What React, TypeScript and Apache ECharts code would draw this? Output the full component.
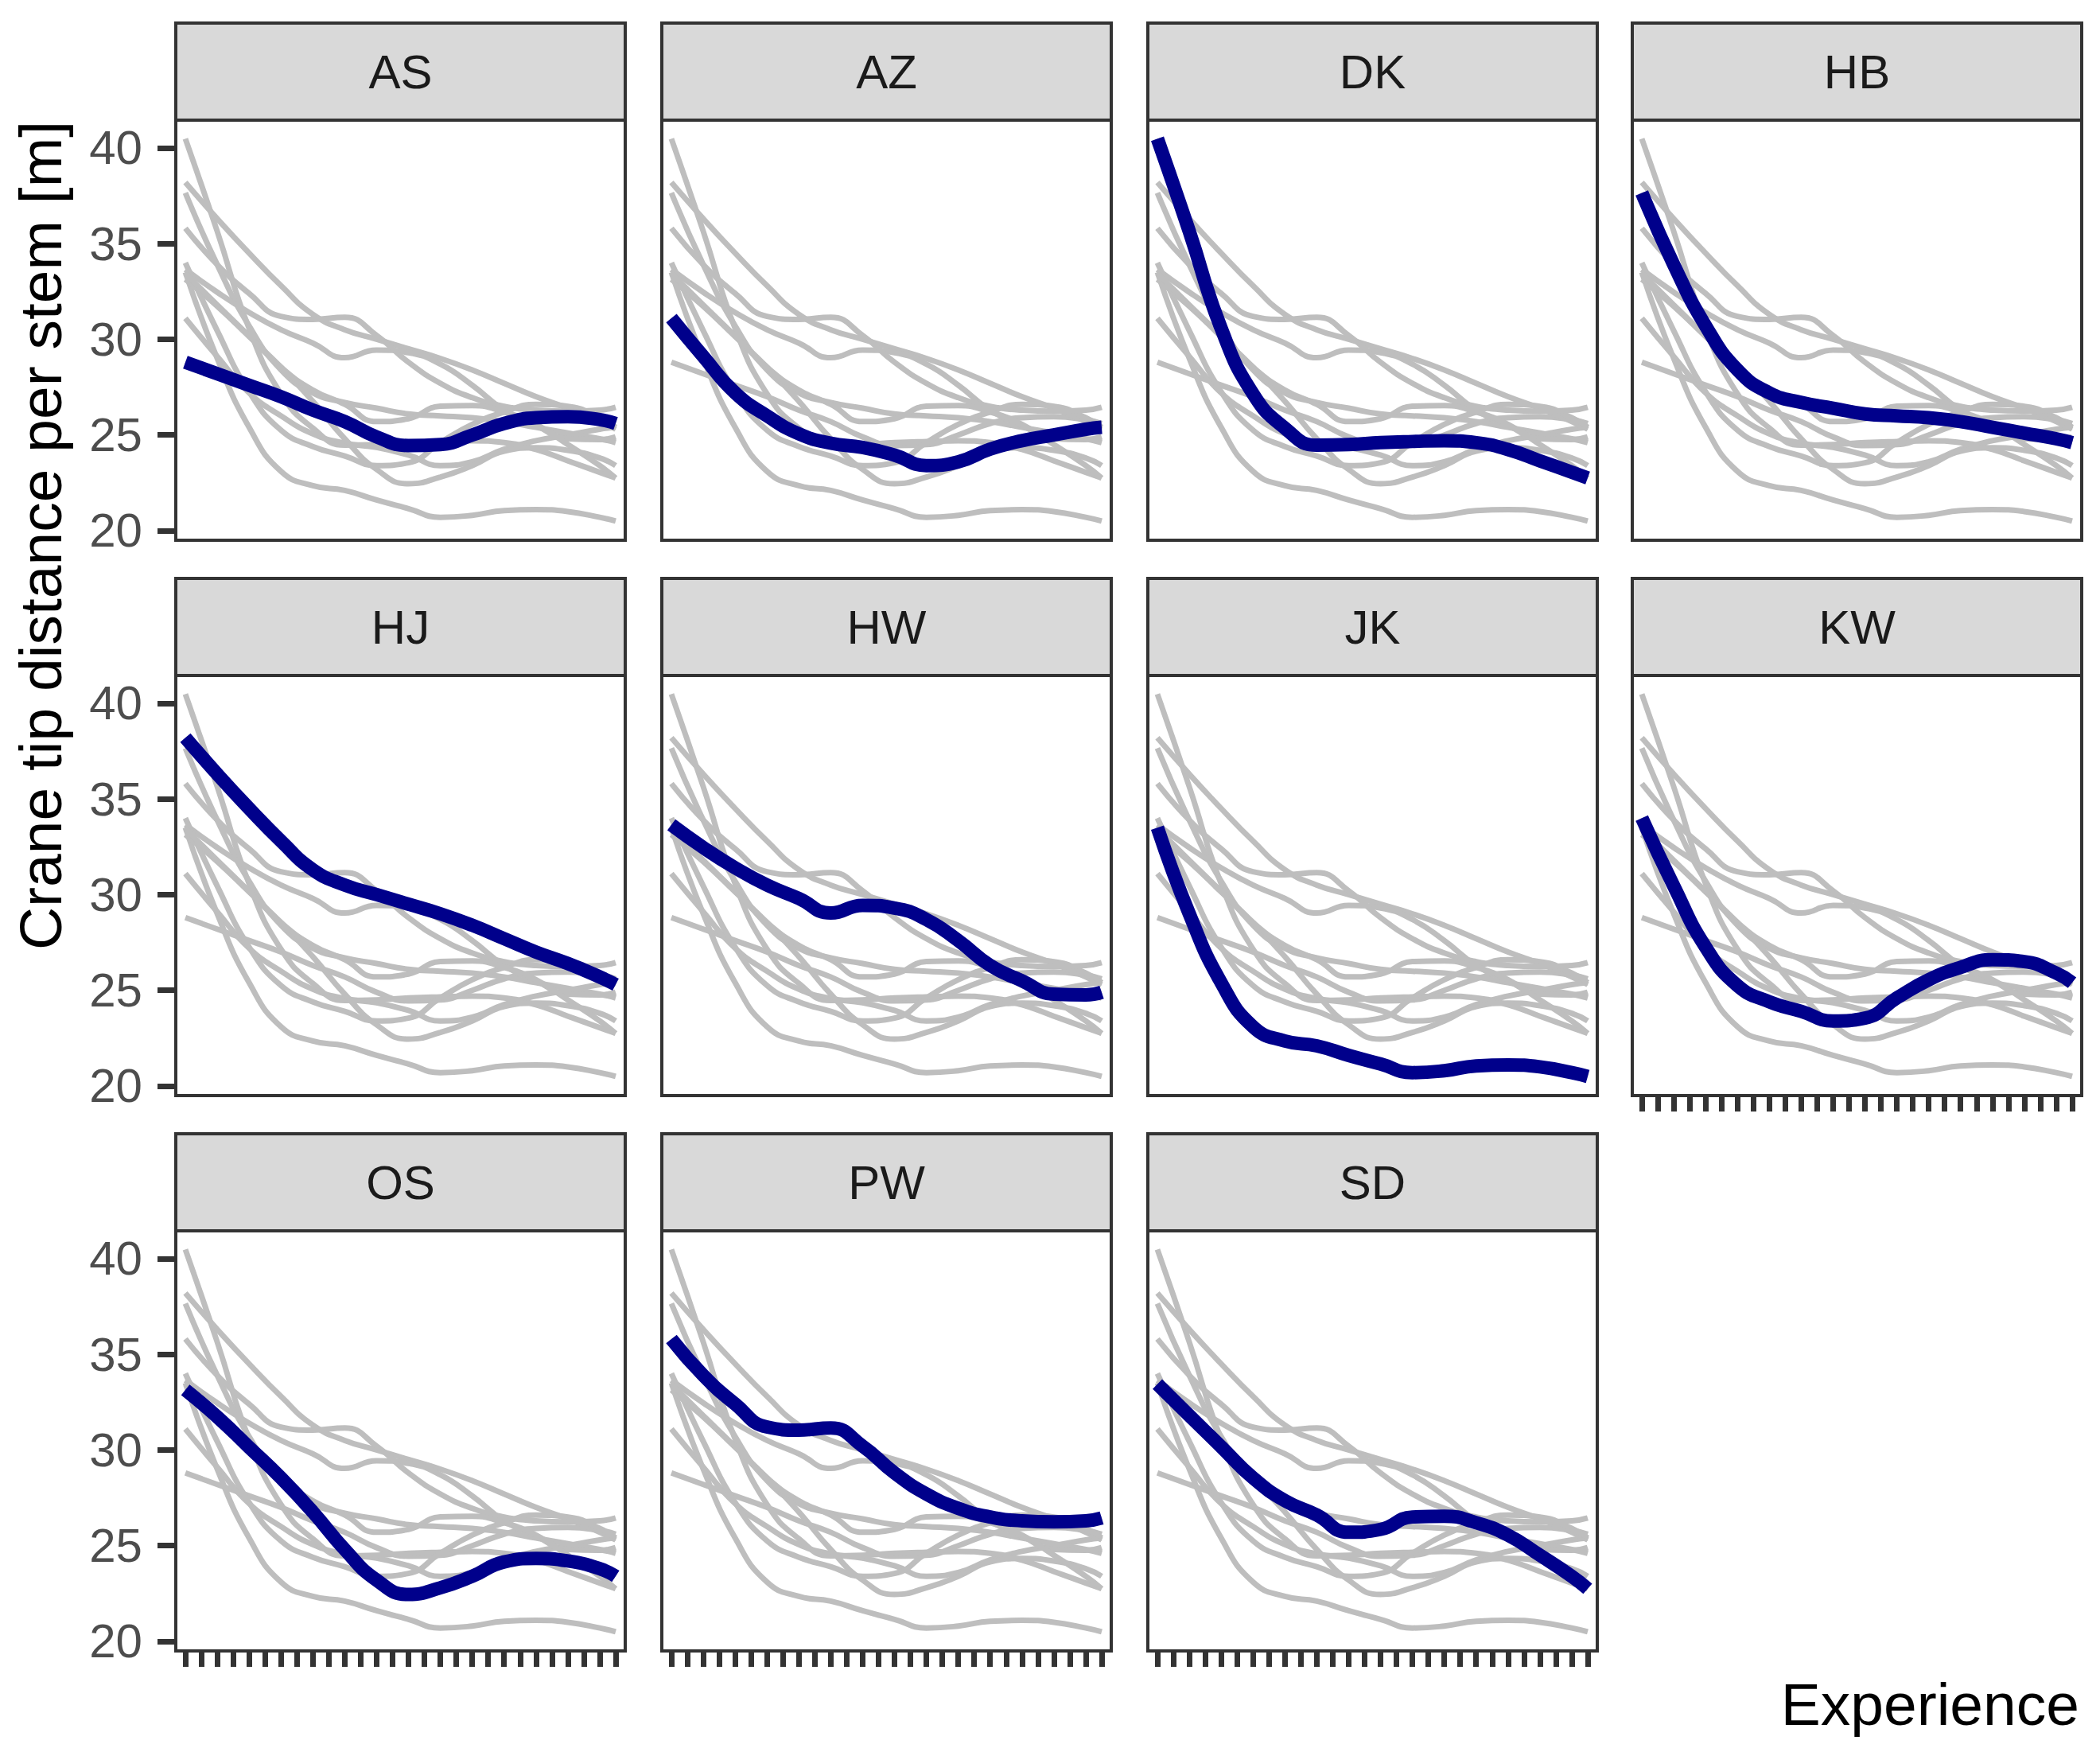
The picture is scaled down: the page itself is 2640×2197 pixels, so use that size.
import React, { useEffect, useRef } from "react";
import * as echarts from "echarts";

// Operators (facet panels), in facet order
const operators = ["AS", "AZ", "DK", "HB", "HJ", "HW", "JK", "KW", "OS", "PW", "SD"];

const experience = [1, 3, 5, 7, 9, 11, 13, 15, 17, 19, 21, 23, 25, 27, 28];

// All experience levels (x-axis ticks, no labels)
const experienceTicks = [
  1, 2, 3, 4, 5, 6, 7, 8, 9, 10, 11, 12, 13, 14, 15, 16, 17, 18, 19, 20, 21, 22, 23, 24, 25, 26, 27, 28,
];

// y-axis tick labels
const yTicks = [20, 25, 30, 35, 40];

// Crane tip distance per stem [m], per operator
const AS = [28.8, 28.2, 27.6, 27.0, 26.3, 25.7, 24.9, 24.45, 24.5, 25.0, 25.6, 25.9, 25.95, 25.8, 25.6];
const AZ = [31.1, 29.1, 27.2, 26.0, 25.06, 24.57, 24.35, 23.95, 23.4, 23.6, 24.26, 24.7, 25.0, 25.3, 25.4];
const DK = [40.48, 35.64, 30.57, 27.15, 25.36, 24.47, 24.5, 24.6, 24.66, 24.7, 24.6, 24.24, 23.65, 23.05, 22.75];
const HB = [37.65, 33.9, 30.7, 28.4, 27.2, 26.7, 26.4, 26.1, 26.0, 25.9, 25.7, 25.4, 25.1, 24.8, 24.6];
const HJ = [38.2, 36.3, 34.5, 32.8, 31.3, 30.5, 30.0, 29.5, 29.0, 28.4, 27.7, 27.0, 26.4, 25.7, 25.3];
const HW = [33.65, 32.46, 31.4, 30.5, 29.8, 29.04, 29.44, 29.3, 28.7, 27.6, 26.3, 25.5, 24.8, 24.76, 24.9];
const JK = [33.5, 29.0, 25.4, 23.1, 22.35, 22.1, 21.6, 21.15, 20.7, 20.8, 21.05, 21.1, 21.0, 20.7, 20.5];
const KW = [34.0, 30.45, 27.26, 25.25, 24.4, 23.9, 23.4, 23.55, 24.6, 25.55, 26.2, 26.6, 26.5, 25.9, 25.4];
const OS = [33.14, 31.73, 30.14, 28.54, 26.76, 24.8, 23.2, 22.45, 22.8, 23.4, 24.15, 24.33, 24.2, 23.8, 23.4];
const PW = [35.8, 33.9, 32.4, 31.2, 31.04, 31.15, 30.2, 28.8, 27.7, 26.95, 26.5, 26.3, 26.25, 26.3, 26.45];
const SD = [33.44, 31.8, 30.17, 28.54, 27.35, 26.6, 25.7, 25.85, 26.5, 26.54, 26.2, 25.55, 24.5, 23.4, 22.75];

const curves: Record<string, number[]> = { AS, AZ, DK, HB, HJ, HW, JK, KW, OS, PW, SD };

// Layout (pixels)
const COL_LEFT = [221, 832, 1443, 2052];
const ROW_TOP = [151, 849, 1547];
const PANEL_W = 565;
const PANEL_H = 528;
const STRIP_H = 122;
const FONT = "'Liberation Sans', Arial, Helvetica, sans-serif";

export default function App() {
  const ref = useRef<HTMLDivElement>(null);

  useEffect(() => {
    if (!ref.current) return;
    const chart = echarts.init(ref.current, undefined, { renderer: "svg" });

    const n = operators.length;
    const isBottom = (k: number) => k + 4 >= n;
    const pos = (k: number) => ({ left: COL_LEFT[k % 4], top: ROW_TOP[Math.floor(k / 4)] });

    const grid = operators.map((_, k) => ({
      left: pos(k).left,
      top: pos(k).top,
      width: PANEL_W,
      height: PANEL_H,
      show: true,
      backgroundColor: "#ffffff",
      borderColor: "#333333",
      borderWidth: 4,
      containLabel: false,
      outerBoundsMode: "none",
    }));

    const tickLine = { color: "#333333", width: 7 };

    const xAxis = operators.map((_, k) => ({
      type: "value",
      gridIndex: k,
      min: 0.4,
      max: 28.6,
      axisLine: { show: false },
      splitLine: { show: false },
      axisLabel: { show: false, customValues: experienceTicks },
      axisTick: { show: isBottom(k), length: 20, customValues: experienceTicks, lineStyle: tickLine },
    }));

    const yAxis = operators.map((_, k) => ({
      type: "value",
      gridIndex: k,
      min: 19.5,
      max: 41.45,
      axisLine: { show: false },
      splitLine: { show: false },
      axisTick: { show: k % 4 === 0, length: 23, customValues: yTicks, lineStyle: tickLine },
      axisLabel: {
        show: k % 4 === 0,
        customValues: yTicks,
        fontSize: 60,
        color: "#4D4D4D",
        fontFamily: FONT,
        margin: 42,
      },
    }));

    const series: any[] = [];
    operators.forEach((panelOp, k) => {
      operators.forEach((op) => {
        series.push({
          type: "line",
          xAxisIndex: k,
          yAxisIndex: k,
          data: experience.map((x, i) => [x, curves[op][i]]),
          smooth: 0.5,
          showSymbol: false,
          silent: true,
          lineStyle: { color: "#BEBEBE", width: 7 },
          z: 2,
        });
      });
      series.push({
        type: "line",
        xAxisIndex: k,
        yAxisIndex: k,
        data: experience.map((x, i) => [x, curves[panelOp][i]]),
        smooth: 0.5,
        showSymbol: false,
        silent: true,
        lineStyle: { color: "#00008B", width: 17 },
        z: 3,
      });
    });

    const graphic: any[] = [];
    operators.forEach((op, k) => {
      const { left, top } = pos(k);
      graphic.push({
        type: "rect",
        shape: { x: left, y: top - STRIP_H, width: PANEL_W, height: STRIP_H },
        style: { fill: "#D9D9D9", stroke: "#333333", lineWidth: 4 },
        z: 1,
      });
      graphic.push({
        type: "text",
        style: {
          text: op,
          x: left + PANEL_W / 2,
          y: top - STRIP_H / 2,
          align: "center",
          verticalAlign: "middle",
          fontSize: 60,
          fontFamily: FONT,
          fill: "#1A1A1A",
        },
        z: 2,
      });
    });
    graphic.push({
      type: "text",
      x: 51,
      y: 152,
      rotation: Math.PI / 2,
      style: {
        text: "Crane tip distance per stem [m]",
        x: 0,
        y: 0,
        align: "right",
        verticalAlign: "middle",
        fontSize: 75,
        fontFamily: FONT,
        fill: "#000000",
      },
    });
    graphic.push({
      type: "text",
      style: {
        text: "Experience",
        x: 2614,
        y: 2142,
        align: "right",
        verticalAlign: "middle",
        fontSize: 75,
        fontFamily: FONT,
        fill: "#000000",
      },
    });

    chart.setOption({
      animation: false,
      backgroundColor: "#ffffff",
      grid,
      xAxis,
      yAxis,
      series,
      graphic,
    } as any);

    return () => chart.dispose();
  }, []);

  return (
    <div
      ref={ref}
      style={{ position: "fixed", left: 0, top: 0, width: 2640, height: 2197, background: "#ffffff" }}
    />
  );
}
